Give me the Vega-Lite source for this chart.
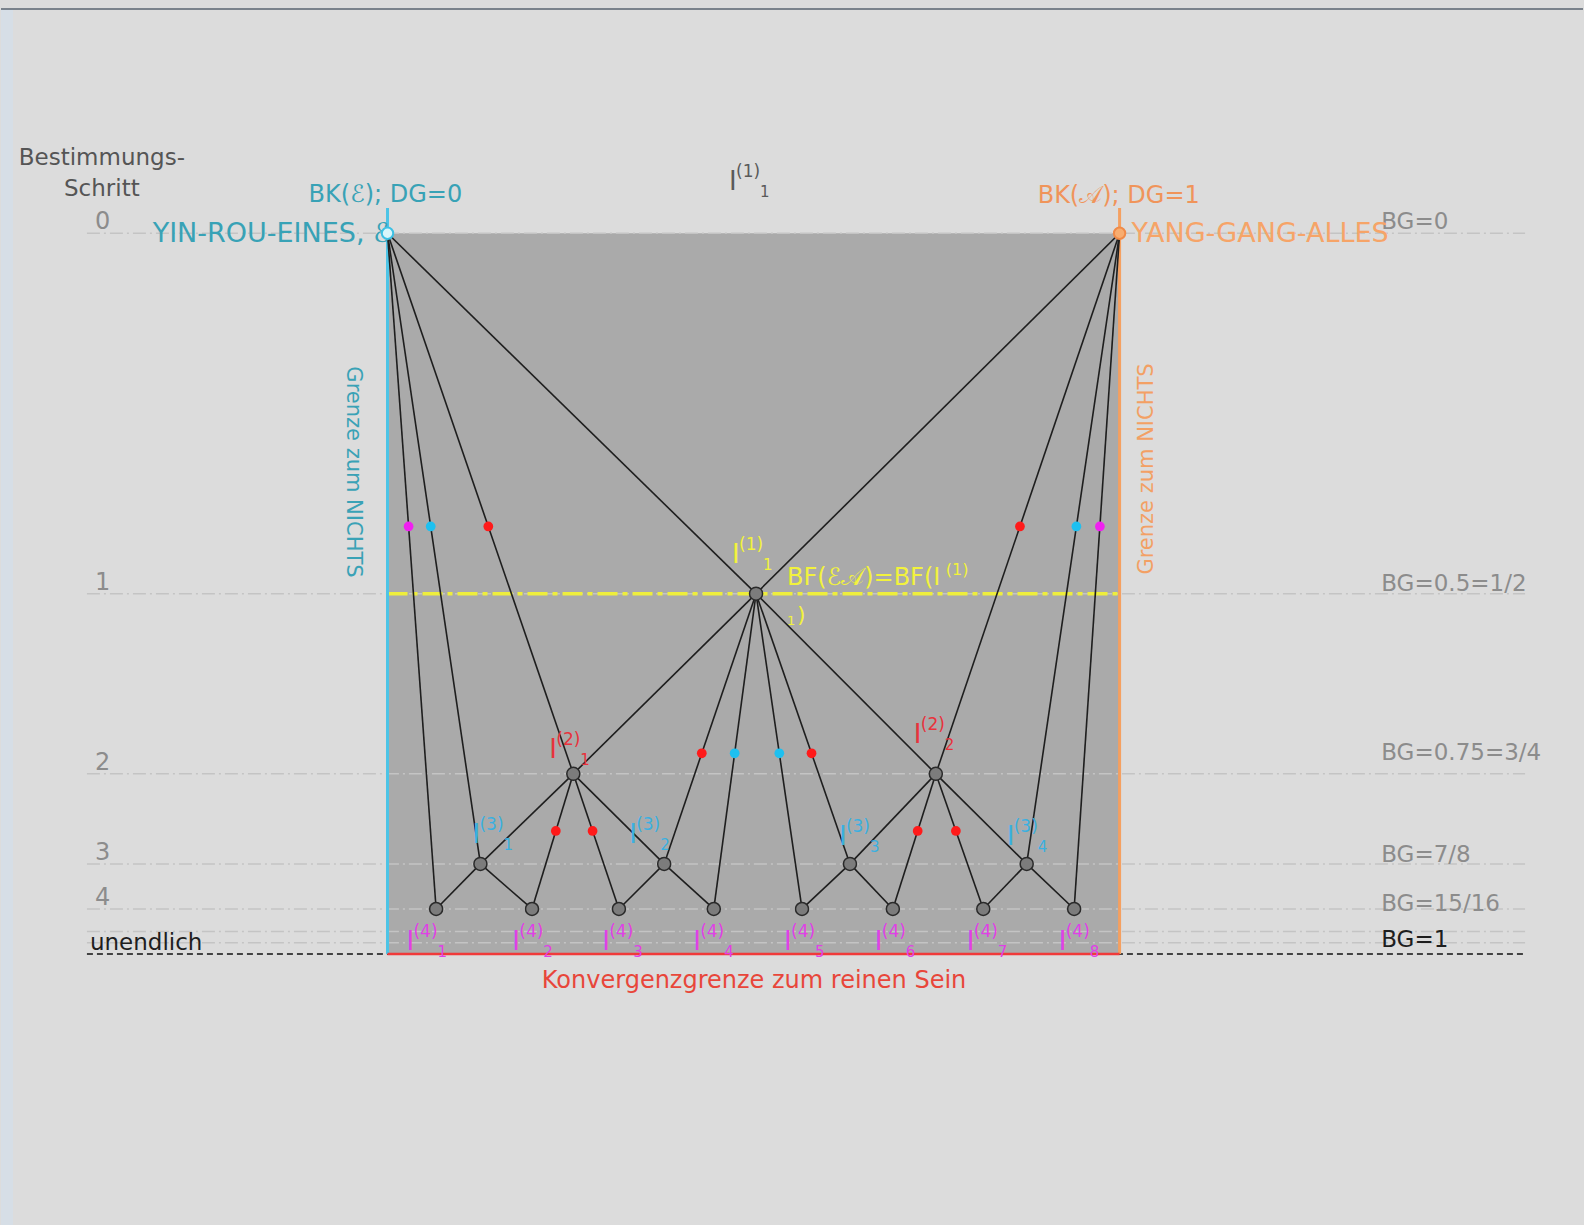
{
  "$schema": "https://vega.github.io/schema/vega-lite/v6.json",
  "width": 1584,
  "height": 1225,
  "autosize": {"type": "fit", "contains": "padding"},
  "padding": 0,
  "background": "#dcdcdc",
  "config": {"view": {"stroke": null}, "text": {"font": "DejaVu Sans"}},
  "resolve": {"scale": {"color": "independent"}},
  "datasets": {
    "edges": [
      {"x": 0, "y": 0, "x2": 0.5034, "y2": 0.5},
      {"x": 0, "y": 0, "x2": 0.2538, "y2": 0.75},
      {"x": 0, "y": 0, "x2": 0.1269, "y2": 0.875},
      {"x": 0, "y": 0, "x2": 0.0664, "y2": 0.9375},
      {"x": 1, "y": 0, "x2": 0.5034, "y2": 0.5},
      {"x": 1, "y": 0, "x2": 0.749, "y2": 0.75},
      {"x": 1, "y": 0, "x2": 0.8731, "y2": 0.875},
      {"x": 1, "y": 0, "x2": 0.9379, "y2": 0.9375},
      {"x": 0.5034, "y": 0.5, "x2": 0.2538, "y2": 0.75},
      {"x": 0.5034, "y": 0.5, "x2": 0.749, "y2": 0.75},
      {"x": 0.5034, "y": 0.5, "x2": 0.3779, "y2": 0.875},
      {"x": 0.5034, "y": 0.5, "x2": 0.6317, "y2": 0.875},
      {"x": 0.5034, "y": 0.5, "x2": 0.4457, "y2": 0.9375},
      {"x": 0.5034, "y": 0.5, "x2": 0.5662, "y2": 0.9375},
      {"x": 0.2538, "y": 0.75, "x2": 0.1269, "y2": 0.875},
      {"x": 0.2538, "y": 0.75, "x2": 0.3779, "y2": 0.875},
      {"x": 0.2538, "y": 0.75, "x2": 0.1974, "y2": 0.9375},
      {"x": 0.2538, "y": 0.75, "x2": 0.3161, "y2": 0.9375},
      {"x": 0.749, "y": 0.75, "x2": 0.6317, "y2": 0.875},
      {"x": 0.749, "y": 0.75, "x2": 0.8731, "y2": 0.875},
      {"x": 0.749, "y": 0.75, "x2": 0.6903, "y2": 0.9375},
      {"x": 0.749, "y": 0.75, "x2": 0.8138, "y2": 0.9375},
      {"x": 0.1269, "y": 0.875, "x2": 0.0664, "y2": 0.9375},
      {"x": 0.1269, "y": 0.875, "x2": 0.1974, "y2": 0.9375},
      {"x": 0.3779, "y": 0.875, "x2": 0.3161, "y2": 0.9375},
      {"x": 0.3779, "y": 0.875, "x2": 0.4457, "y2": 0.9375},
      {"x": 0.6317, "y": 0.875, "x2": 0.5662, "y2": 0.9375},
      {"x": 0.6317, "y": 0.875, "x2": 0.6903, "y2": 0.9375},
      {"x": 0.8731, "y": 0.875, "x2": 0.8138, "y2": 0.9375},
      {"x": 0.8731, "y": 0.875, "x2": 0.9379, "y2": 0.9375}
    ],
    "nodes": [
      {"x": 0.5034, "y": 0.5},
      {"x": 0.2538, "y": 0.75},
      {"x": 0.749, "y": 0.75},
      {"x": 0.1269, "y": 0.875},
      {"x": 0.3779, "y": 0.875},
      {"x": 0.6317, "y": 0.875},
      {"x": 0.8731, "y": 0.875},
      {"x": 0.0664, "y": 0.9375},
      {"x": 0.1974, "y": 0.9375},
      {"x": 0.3161, "y": 0.9375},
      {"x": 0.4457, "y": 0.9375},
      {"x": 0.5662, "y": 0.9375},
      {"x": 0.6903, "y": 0.9375},
      {"x": 0.8138, "y": 0.9375},
      {"x": 0.9379, "y": 0.9375}
    ],
    "dots": [
      {"x": 0.0288, "y": 0.4068, "k": "magenta"},
      {"x": 0.059, "y": 0.4068, "k": "cyan"},
      {"x": 0.1377, "y": 0.4068, "k": "rot"},
      {"x": 0.8639, "y": 0.4068, "k": "rot"},
      {"x": 0.941, "y": 0.4068, "k": "cyan"},
      {"x": 0.9731, "y": 0.4068, "k": "magenta"},
      {"x": 0.4293, "y": 0.7215, "k": "rot"},
      {"x": 0.4742, "y": 0.7215, "k": "cyan"},
      {"x": 0.5352, "y": 0.7215, "k": "cyan"},
      {"x": 0.5792, "y": 0.7215, "k": "rot"},
      {"x": 0.2299, "y": 0.8293, "k": "rot"},
      {"x": 0.2801, "y": 0.8293, "k": "rot"},
      {"x": 0.7242, "y": 0.8293, "k": "rot"},
      {"x": 0.7764, "y": 0.8293, "k": "rot"}
    ],
    "labels": [
      {"x": 0.4707, "y": -0.0601, "sup": "(1)", "sub": "1", "g": "grau"},
      {"x": 0.4748, "y": 0.4575, "sup": "(1)", "sub": "1", "g": "gelb"},
      {"x": 0.2251, "y": 0.728, "sup": "(2)", "sub": "1", "g": "rot"},
      {"x": 0.7231, "y": 0.7071, "sup": "(2)", "sub": "2", "g": "rot"},
      {"x": 0.1201, "y": 0.846, "sup": "(3)", "sub": "1", "g": "cyan"},
      {"x": 0.3342, "y": 0.846, "sup": "(3)", "sub": "2", "g": "cyan"},
      {"x": 0.6207, "y": 0.849, "sup": "(3)", "sub": "3", "g": "cyan"},
      {"x": 0.8499, "y": 0.849, "sup": "(3)", "sub": "4", "g": "cyan"},
      {"x": 0.03, "y": 0.9945, "sup": "(4)", "sub": "1", "g": "magenta"},
      {"x": 0.1746, "y": 0.9945, "sup": "(4)", "sub": "2", "g": "magenta"},
      {"x": 0.2974, "y": 0.9945, "sup": "(4)", "sub": "3", "g": "magenta"},
      {"x": 0.4216, "y": 0.9945, "sup": "(4)", "sub": "4", "g": "magenta"},
      {"x": 0.5457, "y": 0.9945, "sup": "(4)", "sub": "5", "g": "magenta"},
      {"x": 0.6698, "y": 0.9945, "sup": "(4)", "sub": "6", "g": "magenta"},
      {"x": 0.7954, "y": 0.9945, "sup": "(4)", "sub": "7", "g": "magenta"},
      {"x": 0.9209, "y": 0.9945, "sup": "(4)", "sub": "8", "g": "magenta"}
    ]
  },
  "encoding": {
    "x": {"field": "x", "type": "quantitative", "scale": {"domain": [-0.52797, 1.63302], "nice": false, "zero": false}, "axis": null},
    "y": {"field": "y", "type": "quantitative", "scale": {"domain": [-0.32371, 1.37602], "nice": false, "zero": false, "reverse": true}, "axis": null}
  },
  "layer": [
    {
      "data": {"values": [{"x": -0.52797, "x2": -0.5116, "y": -0.3112, "y2": 1.37602}]},
      "mark": {"type": "rect", "color": "#d6dee6"},
      "encoding": {"x2": {"field": "x2"}, "y2": {"field": "y2"}}
    },
    {
      "data": {"values": [{"x": -0.52797, "x2": 1.63302, "y": -0.3112}]},
      "mark": {"type": "rule", "color": "#5a6470", "strokeWidth": 1.5},
      "encoding": {"x2": {"field": "x2"}}
    },
    {
      "data": {"values": [{"x": 0, "y": 0, "x2": 1, "y2": 1}]},
      "mark": {"type": "rect", "color": "#aaaaaa"},
      "encoding": {"x2": {"field": "x2"}, "y2": {"field": "y2"}}
    },
    {
      "data": {"values": [
        {"x": -0.4106, "x2": 1.5539, "y": 0},
        {"x": -0.4106, "x2": 1.5539, "y": 0.5},
        {"x": -0.4106, "x2": 1.5539, "y": 0.75},
        {"x": -0.4106, "x2": 1.5539, "y": 0.875},
        {"x": -0.4106, "x2": 1.5539, "y": 0.9375},
        {"x": -0.4106, "x2": 1.5539, "y": 0.96875},
        {"x": -0.4106, "x2": 1.5539, "y": 0.984375}
      ]},
      "mark": {"type": "rule", "color": "#c4c4c4", "strokeWidth": 1.5, "strokeDash": [13, 4, 2, 4]},
      "encoding": {"x2": {"field": "x2"}}
    },
    {
      "data": {"values": [{"x": -0.4106, "x2": 1.5539, "y": 1}]},
      "mark": {"type": "rule", "color": "#111111", "strokeWidth": 1.5, "strokeDash": [6, 4]},
      "encoding": {"x2": {"field": "x2"}}
    },
    {
      "data": {"values": [{"x": 0, "x2": 1, "y": 0.5}]},
      "mark": {"type": "rule", "color": "#eeee3c", "strokeWidth": 3.5, "strokeDash": [20, 5, 5, 5]},
      "encoding": {"x2": {"field": "x2"}}
    },
    {
      "data": {"values": [{"x": 0, "y": -0.0351, "y2": 1}]},
      "mark": {"type": "rule", "color": "#4cc4e6", "strokeWidth": 3},
      "encoding": {"y2": {"field": "y2"}}
    },
    {
      "data": {"values": [{"x": 1, "y": -0.0351, "y2": 1}]},
      "mark": {"type": "rule", "color": "#f5a060", "strokeWidth": 3},
      "encoding": {"y2": {"field": "y2"}}
    },
    {
      "data": {"values": [{"x": 0, "x2": 1, "y": 1}]},
      "mark": {"type": "rule", "color": "#f03a3a", "strokeWidth": 2.5},
      "encoding": {"x2": {"field": "x2"}}
    },
    {
      "data": {"name": "edges"},
      "mark": {"type": "rule", "color": "#1e1e1e", "strokeWidth": 1.6},
      "encoding": {"x2": {"field": "x2"}, "y2": {"field": "y2"}}
    },
    {
      "data": {"name": "dots"},
      "mark": {"type": "point", "filled": true, "size": 95, "opacity": 1},
      "encoding": {"color": {"field": "k", "type": "nominal", "scale": {"domain": ["rot", "cyan", "magenta"], "range": ["#ff1a1a", "#1ec0f0", "#f020f0"]}, "legend": null}}
    },
    {
      "data": {"name": "nodes"},
      "mark": {"type": "point", "filled": true, "size": 170, "fill": "#7c7c7c", "stroke": "#2a2a2a", "strokeWidth": 1.5, "opacity": 1}
    },
    {
      "data": {"values": [{"x": -0.3902, "y": -0.0948, "t": "Bestimmungs-"}, {"x": -0.3902, "y": -0.0518, "t": "Schritt"}]},
      "mark": {"type": "text", "align": "center", "baseline": "alphabetic", "fontSize": 23, "color": "#555555"},
      "encoding": {"text": {"field": "t"}}
    },
    {
      "data": {"values": [
        {"x": -0.3997, "y": -0.006, "t": "0"},
        {"x": -0.3997, "y": 0.4949, "t": "1"},
        {"x": -0.3997, "y": 0.7447, "t": "2"},
        {"x": -0.3997, "y": 0.8696, "t": "3"},
        {"x": -0.3997, "y": 0.932, "t": "4"}
      ]},
      "mark": {"type": "text", "align": "left", "baseline": "alphabetic", "fontSize": 24, "color": "#8c8c8c"},
      "encoding": {"text": {"field": "t"}}
    },
    {
      "data": {"values": [
        {"x": 1.3574, "y": -0.0065, "t": "BG=0"},
        {"x": 1.3574, "y": 0.4963, "t": "BG=0.5=1/2"},
        {"x": 1.3574, "y": 0.7308, "t": "BG=0.75=3/4"},
        {"x": 1.3574, "y": 0.8723, "t": "BG=7/8"},
        {"x": 1.3574, "y": 0.9403, "t": "BG=15/16"}
      ]},
      "mark": {"type": "text", "align": "left", "baseline": "alphabetic", "fontSize": 23, "color": "#8c8c8c"},
      "encoding": {"text": {"field": "t"}}
    },
    {
      "data": {"values": [
        {"x": -0.4065, "y": 0.9945, "t": "unendlich"},
        {"x": 1.3574, "y": 0.9903, "t": "BG=1"}
      ]},
      "mark": {"type": "text", "align": "left", "baseline": "alphabetic", "fontSize": 23, "color": "#1e1e1e"},
      "encoding": {"text": {"field": "t"}}
    },
    {
      "data": {"values": [{"x": -0.1078, "y": -0.0434, "t": "BK(ℰ); DG=0"}]},
      "mark": {"type": "text", "align": "left", "baseline": "alphabetic", "fontSize": 24, "color": "#38a2b6"},
      "encoding": {"text": {"field": "t"}}
    },
    {
      "data": {"values": [{"x": 0.0027, "y": 0.0121, "t": "YIN-ROU-EINES, ℰ"}]},
      "mark": {"type": "text", "align": "right", "baseline": "alphabetic", "fontSize": 27, "color": "#38a2b6"},
      "encoding": {"text": {"field": "t"}}
    },
    {
      "data": {"values": [{"x": 0.8881, "y": -0.042, "t": "BK(𝒜); DG=1"}]},
      "mark": {"type": "text", "align": "left", "baseline": "alphabetic", "fontSize": 24, "color": "#f0945a"},
      "encoding": {"text": {"field": "t"}}
    },
    {
      "data": {"values": [{"x": 1.0164, "y": 0.0121, "t": "YANG-GANG-ALLES"}]},
      "mark": {"type": "text", "align": "left", "baseline": "alphabetic", "fontSize": 27, "color": "#f6a468"},
      "encoding": {"text": {"field": "t"}}
    },
    {
      "data": {"values": [{"x": 0, "y": 0}]},
      "mark": {"type": "point", "filled": true, "size": 130, "fill": "#d8f6fb", "stroke": "#3cc0e4", "strokeWidth": 2, "opacity": 1}
    },
    {
      "data": {"values": [{"x": 1, "y": 0}]},
      "mark": {"type": "point", "filled": true, "size": 130, "fill": "#f8ad70", "stroke": "#f08a48", "strokeWidth": 2, "opacity": 1}
    },
    {
      "data": {"values": [{"x": 0.5007, "y": 1.0472, "t": "Konvergenzgrenze zum reinen Sein"}]},
      "mark": {"type": "text", "align": "center", "baseline": "alphabetic", "fontSize": 24, "color": "#e8463a"},
      "encoding": {"text": {"field": "t"}}
    },
    {
      "data": {"values": [{"x": -0.0477, "y": 0.3312, "t": "Grenze zum NICHTS"}]},
      "mark": {"type": "text", "align": "center", "baseline": "middle", "angle": 90, "fontSize": 21, "color": "#3aa2b6"},
      "encoding": {"text": {"field": "t"}}
    },
    {
      "data": {"values": [{"x": 1.0368, "y": 0.327, "t": "Grenze zum NICHTS"}]},
      "mark": {"type": "text", "align": "center", "baseline": "middle", "angle": 270, "fontSize": 21, "color": "#f3a064"},
      "encoding": {"text": {"field": "t"}}
    },
    {
      "data": {"values": [{"x": 0.5457, "y": 0.488, "t": "BF(ℰ𝒜)=BF(I"}]},
      "mark": {"type": "text", "align": "left", "baseline": "alphabetic", "fontSize": 24, "color": "#f2f23c"},
      "encoding": {"text": {"field": "t"}}
    },
    {
      "data": {"values": [{"x": 0.7626, "y": 0.4741, "t": "(1)"}]},
      "mark": {"type": "text", "align": "left", "baseline": "alphabetic", "fontSize": 16, "color": "#f2f23c"},
      "encoding": {"text": {"field": "t"}}
    },
    {
      "data": {"values": [{"x": 0.5457, "y": 0.5435, "t": "1"}]},
      "mark": {"type": "text", "align": "left", "baseline": "alphabetic", "fontSize": 13, "color": "#f2f23c"},
      "encoding": {"text": {"field": "t"}}
    },
    {
      "data": {"values": [{"x": 0.5594, "y": 0.5393, "t": ")"}]},
      "mark": {"type": "text", "align": "left", "baseline": "alphabetic", "fontSize": 22, "color": "#f2f23c"},
      "encoding": {"text": {"field": "t"}}
    },
    {
      "data": {"name": "labels"},
      "mark": {"type": "text", "align": "left", "baseline": "alphabetic", "fontSize": 26, "dx": -3},
      "encoding": {
        "text": {"value": "I"},
        "color": {"field": "g", "type": "nominal", "scale": {"domain": ["grau", "gelb", "rot", "cyan", "magenta"], "range": ["#5a5a5a", "#f2f23c", "#e8323c", "#3ab0e0", "#e040e6"]}, "legend": null}
      }
    },
    {
      "data": {"name": "labels"},
      "mark": {"type": "text", "align": "left", "baseline": "alphabetic", "fontSize": 17, "dx": 4, "dy": -13},
      "encoding": {
        "text": {"field": "sup"},
        "color": {"field": "g", "type": "nominal", "scale": {"domain": ["grau", "gelb", "rot", "cyan", "magenta"], "range": ["#5a5a5a", "#f2f23c", "#e8323c", "#3ab0e0", "#e040e6"]}, "legend": null}
      }
    },
    {
      "data": {"name": "labels"},
      "mark": {"type": "text", "align": "left", "baseline": "alphabetic", "fontSize": 15, "dx": 28, "dy": 7},
      "encoding": {
        "text": {"field": "sub"},
        "color": {"field": "g", "type": "nominal", "scale": {"domain": ["grau", "gelb", "rot", "cyan", "magenta"], "range": ["#5a5a5a", "#f2f23c", "#e8323c", "#3ab0e0", "#e040e6"]}, "legend": null}
      }
    }
  ]
}
